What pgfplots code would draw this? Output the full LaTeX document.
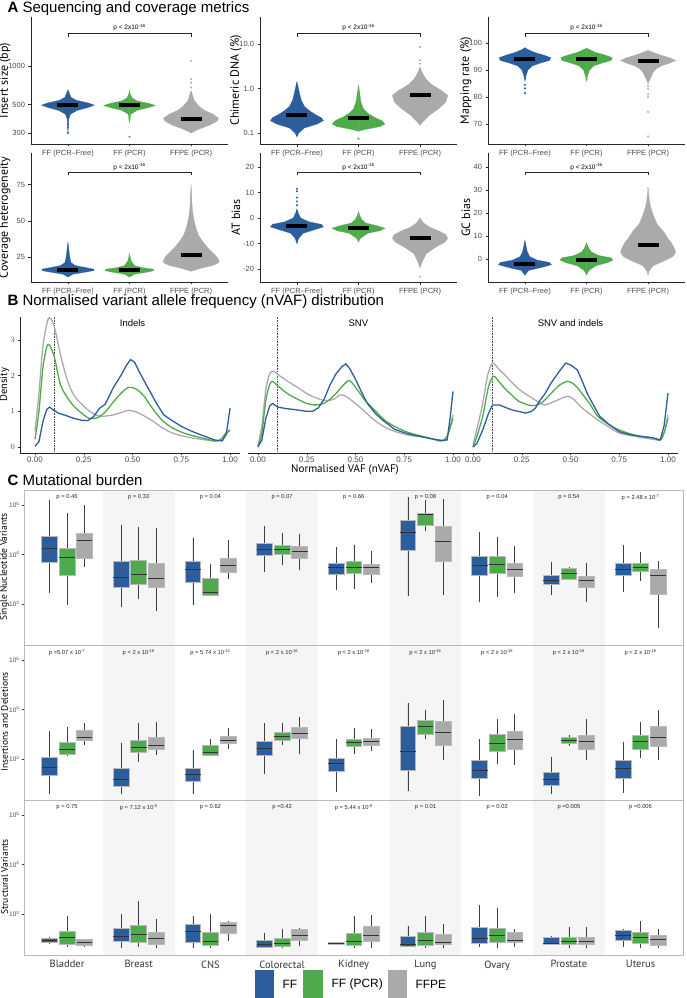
\documentclass[border=0pt]{standalone}
\usepackage{fontspec}
\setmainfont{Liberation Sans}
\newfontfamily\labf{PT Sans}
\usepackage{pgfplots}
\usepackage{pgfplotstable}
\pgfplotsset{compat=1.18}
\usepgfplotslibrary{statistics}

\definecolor{cblue}{RGB}{44,94,158}
\definecolor{cgreen}{RGB}{78,170,74}
\definecolor{cgrey}{RGB}{170,170,170}
\definecolor{tickc}{RGB}{77,77,77}
\definecolor{shade}{RGB}{245,245,245}
\newcommand\fs[1]{\fontsize{#1}{#1}\selectfont}

% ---- violin profiles: y, half width (category units) ----
\pgfplotstableread{
y hw
300 0
380 0.01
420 0.04
450 0.15
475 0.33
495 0.43
515 0.33
540 0.14
570 0.05
620 0.02
650 0
}\insB
\pgfplotstableread{
y hw
360 0
420 0.02
450 0.12
475 0.32
492 0.42
510 0.32
535 0.12
565 0.04
610 0.01
640 0
}\insG
\pgfplotstableread{
y hw
300 0
320 0.12
345 0.3
370 0.42
390 0.45
420 0.36
450 0.22
490 0.12
540 0.05
600 0.02
640 0
}\insY
\pgfplotstableread{
y hw
0.083 0
0.1 0.03
0.13 0.12
0.16 0.33
0.19 0.43
0.22 0.40
0.26 0.30
0.32 0.20
0.40 0.12
0.55 0.07
0.8 0.04
1.1 0.02
1.4 0
}\chiB
\pgfplotstableread{
y hw
0.11 0
0.12 0.1
0.14 0.35
0.16 0.43
0.19 0.38
0.23 0.25
0.28 0.15
0.35 0.08
0.5 0.04
0.8 0.02
1.2 0
}\chiG
\pgfplotstableread{
y hw
0.15 0
0.18 0.05
0.25 0.15
0.35 0.30
0.5 0.42
0.7 0.45
0.9 0.35
1.2 0.2
1.6 0.1
2.2 0.04
3.0 0
}\chiY
\pgfplotstableread{
y hw
86 0
88 0.02
90 0.05
91.5 0.12
92.5 0.25
93.5 0.40
94.5 0.42
95.5 0.30
96.5 0.15
97.5 0.05
98.2 0
}\mapB
\pgfplotstableread{
y hw
86 0
88 0.02
90 0.05
91.5 0.12
92.5 0.25
93.5 0.40
94.5 0.42
95.5 0.30
96.5 0.14
97.5 0.05
98 0
}\mapG
\pgfplotstableread{
y hw
85 0
87 0.04
89 0.08
90.5 0.14
91.5 0.22
92.5 0.35
93.5 0.45
94.5 0.35
95.5 0.2
96.5 0.08
97.2 0
}\mapY
\pgfplotstableread{
y hw
11 0
13 0.08
14.5 0.3
15.5 0.42
16.5 0.42
17.5 0.3
19 0.12
21 0.05
25 0.03
30 0.015
35 0
}\covB
\pgfplotstableread{
y hw
11 0
13 0.08
14.5 0.3
15.5 0.4
16.5 0.38
17.5 0.22
19 0.08
22 0.03
27 0
}\covG
\pgfplotstableread{
y hw
15 0
17 0.15
19 0.35
21 0.45
23 0.45
26 0.4
30 0.3
35 0.2
40 0.12
45 0.08
50 0.05
55 0.03
62 0.015
68 0.008
75 0
}\covY
\pgfplotstableread{
y hw
-10 0
-8 0.03
-6 0.1
-4.5 0.3
-3.5 0.43
-2.5 0.4
-1.5 0.2
0 0.06
2 0.02
3.5 0
}\atB
\pgfplotstableread{
y hw
-9.5 0
-8 0.03
-6 0.15
-5 0.35
-4 0.43
-3 0.3
-2 0.12
-0.5 0.05
1 0.02
2.5 0
}\atG
\pgfplotstableread{
y hw
-19.5 0
-17 0.04
-14 0.1
-11.5 0.25
-9.5 0.4
-8 0.45
-6.5 0.42
-5 0.3
-3.5 0.15
-2 0.06
0 0
}\atY
\pgfplotstableread{
y hw
-7 0
-5 0.06
-3.5 0.3
-2.5 0.43
-1.5 0.4
-0.5 0.2
1 0.08
3 0.04
5.5 0.02
8 0
}\gcB
\pgfplotstableread{
y hw
-7 0
-5 0.04
-3 0.15
-1.5 0.35
-0.5 0.43
0.5 0.4
1.5 0.2
3 0.08
5 0.03
7 0
}\gcG
\pgfplotstableread{
y hw
-6 0
-3 0.08
-1 0.25
1 0.4
3 0.45
5 0.42
7 0.38
9 0.32
12 0.25
15 0.15
18 0.1
21 0.06
24 0.03
27 0.015
30 0
}\gcY

\newcommand\vio[3]{%
  \addplot[fill=#2, draw=#2, line width=0.2pt] table[x expr=#1+\thisrow{hw}, y=y]{#3} -- cycle;
  \addplot[fill=#2, draw=#2, line width=0.2pt] table[x expr=#1-\thisrow{hw}, y=y]{#3} -- cycle;}
\newcommand\med[2]{\addplot[black, line width=4pt] coordinates {(#1-0.17,#2) (#1+0.17,#2)};}
\newcommand\bx[7]{\addplot[fill=#1, draw=gray!55, line width=0.7pt,
  boxplot prepared={draw position=#2, lower whisker=#3, lower quartile=#4,
  median=#5, upper quartile=#6, upper whisker=#7}] coordinates {};}
\newcommand\pv[2]{\node[anchor=north, font=\fs{5.8}, text=black!85] at (axis cs:#1,5.285) {#2};}
\newcommand\shades{%
  \addplot[fill=shade, draw=none] coordinates {(1.5,2.17) (2.5,2.17) (2.5,5.3) (1.5,5.3)} -- cycle;
  \addplot[fill=shade, draw=none] coordinates {(3.5,2.17) (4.5,2.17) (4.5,5.3) (3.5,5.3)} -- cycle;
  \addplot[fill=shade, draw=none] coordinates {(5.5,2.17) (6.5,2.17) (6.5,5.3) (5.5,5.3)} -- cycle;
  \addplot[fill=shade, draw=none] coordinates {(7.5,2.17) (8.5,2.17) (8.5,5.3) (7.5,5.3)} -- cycle;}

\pgfplotsset{
  Abase/.style={
    scale only axis, anchor=north west, width=197pt,
    axis lines=left, axis line style={-, black!85, line width=0.9pt},
    xmin=0.4, xmax=3.6, xtick={1,2,3},
    xticklabels={FF (PCR–Free), FF (PCR), FFPE (PCR)},
    tick align=outside, major tick length=2.5pt, minor tick length=0pt,
    tick style={black!85, line width=0.5pt},
    ticklabel style={font=\fs{7.5}, text=tickc},
    ylabel style={font=\labf\fs{12}, anchor=center},
  },
  Arow1/.style={Abase, height=127pt},
  Arow2/.style={Abase, height=129pt},
  Bbase/.style={
    scale only axis, anchor=north west, height=136.4pt,
    ymin=-0.17, ymax=3.65, xmax=1.05,
    axis x line*=bottom, axis line style={-, black!85, line width=0.9pt},
    xtick={0,0.25,0.5,0.75,1}, xticklabels={0.00,0.25,0.50,0.75,1.00},
    tick align=outside, major tick length=2pt,
    tick style={black!85, line width=0.5pt},
    ticklabel style={font=\fs{8}, text=tickc},
    xticklabel style={yshift=1.5pt},
  },
  Cbase/.style={
    scale only axis, anchor=north west, width=659.6pt, height=155pt,
    xmin=0.4, xmax=9.6, ymin=2.17, ymax=5.3, axis on top,
    axis line style={gray!55, line width=0.6pt},
    xtick={1,...,9}, xticklabels={}, xtick style={draw=none},
    ytick={3,4,5}, yticklabels={10\textsuperscript{3},10\textsuperscript{4},10\textsuperscript{5}},
    ytick pos=left, tick align=outside, major tick length=2pt,
    ytick style={black!80},
    yticklabel style={font=\fs{6.5}, text=tickc, xshift=1pt},
    boxplot/draw direction=y,
    boxplot/box extend=0.22, boxplot/whisker extend=0,
    boxplot/every median/.style={draw=black!80, line width=1pt},
    boxplot/every whisker/.style={draw=gray!50!black, line width=0.6pt},
  },
}

\begin{document}
\begin{tikzpicture}
\path[use as bounding box] (0,0) rectangle (687pt,-998pt);

\node[anchor=west, font=\fs{15}] at (4pt,-9pt) {\textbf{A} Sequencing and coverage metrics};
\node[anchor=west, font=\fs{15}] at (4pt,-302pt) {\textbf{B} Normalised variant allele frequency (nVAF) distribution};
\node[anchor=west, font=\fs{15}] at (4pt,-480pt) {\textbf{C} Mutational burden};

% ================= A, row 1 =================
\begin{axis}[Arow1, at={(31pt,-17pt)}, ymode=log, ymin=246, ymax=2420,
  ytick={300,500,1000}, yticklabels={300,500,1000}, ylabel={Insert size (bp)},
  ylabel style={at={(axis description cs:-0.132,0.5)}}]
\vio{1}{cblue}{\insB}\vio{2}{cgreen}{\insG}\vio{3}{cgrey}{\insY}
\addplot[only marks, mark=*, mark size=0.8pt, cblue, draw=none] coordinates {(1,350) (1,330) (1,300)};
\addplot[only marks, mark=*, mark size=0.8pt, cgreen, draw=none] coordinates {(2,380) (2,280)};
\addplot[only marks, mark=*, mark size=0.8pt, cgrey, draw=none] coordinates {(3,680) (3,740) (3,790) (3,1100)};
\med{1}{495}\med{2}{492}\med{3}{385}
\draw[black!85, line width=0.6pt] (axis description cs:0.1875,0.845) |- (axis description cs:0.8125,0.872) -- (axis description cs:0.8125,0.845);
\node[font=\fs{6.5}] at (axis description cs:0.5,0.915) {p < 2x10\textsuperscript{-16}};
\end{axis}

\begin{axis}[Arow1, at={(260pt,-17pt)}, ymode=log, ymin=0.057, ymax=40,
  ytick={0.1,1,10}, yticklabels={0.1,1.0,10.0}, ylabel={Chimeric DNA (\%)},
  ylabel style={at={(axis description cs:-0.122,0.5)}}]
\vio{1}{cblue}{\chiB}\vio{2}{cgreen}{\chiG}\vio{3}{cgrey}{\chiY}
\addplot[only marks, mark=*, mark size=0.8pt, cgreen, draw=none] coordinates {(2,0.075)};
\addplot[only marks, mark=*, mark size=0.8pt, cgrey, draw=none] coordinates {(3,3.6) (3,4.3) (3,8.5)};
\med{1}{0.25}\med{2}{0.22}\med{3}{0.7}
\draw[black!85, line width=0.6pt] (axis description cs:0.1875,0.845) |- (axis description cs:0.8125,0.872) -- (axis description cs:0.8125,0.845);
\node[font=\fs{6.5}] at (axis description cs:0.5,0.915) {p < 2x10\textsuperscript{-16}};
\end{axis}

\begin{axis}[Arow1, at={(488pt,-17pt)}, ymin=62.7, ymax=109.5,
  ytick={70,80,90,100}, yticklabels={70,80,90,100}, ylabel={Mapping rate (\%)},
  ylabel style={at={(axis description cs:-0.112,0.5)}}]
\vio{1}{cblue}{\mapB}\vio{2}{cgreen}{\mapG}\vio{3}{cgrey}{\mapY}
\addplot[only marks, mark=*, mark size=0.8pt, cblue, draw=none] coordinates {(1,87) (1,84.5) (1,83.2) (1,81.5)};
\addplot[only marks, mark=*, mark size=0.8pt, cgreen, draw=none] coordinates {(2,86.5)};
\addplot[only marks, mark=*, mark size=0.8pt, cgrey, draw=none] coordinates {(3,84) (3,83) (3,81) (3,80) (3,74.5) (3,65.5)};
\med{1}{94}\med{2}{94.2}\med{3}{93.2}
\draw[black!85, line width=0.6pt] (axis description cs:0.1875,0.845) |- (axis description cs:0.8125,0.872) -- (axis description cs:0.8125,0.845);
\node[font=\fs{6.5}] at (axis description cs:0.5,0.915) {p < 2x10\textsuperscript{-16}};
\end{axis}

% ================= A, row 2 =================
\begin{axis}[Arow2, at={(31pt,-153pt)}, ymin=7.6, ymax=97,
  ytick={25,50,75}, yticklabels={25,50,75}, ylabel={Coverage heterogeneity},
  ylabel style={at={(axis description cs:-0.132,0.5)}}]
\vio{1}{cblue}{\covB}\vio{2}{cgreen}{\covG}\vio{3}{cgrey}{\covY}
\med{1}{16}\med{2}{15.7}\med{3}{26}
\draw[black!85, line width=0.6pt] (axis description cs:0.1875,0.826) |- (axis description cs:0.8125,0.85) -- (axis description cs:0.8125,0.826);
\node[font=\fs{6.5}] at (axis description cs:0.5,0.89) {p < 2x10\textsuperscript{-16}};
\end{axis}

\begin{axis}[Arow2, at={(260pt,-153pt)}, ymin=-25.1, ymax=25.5,
  ytick={-20,-10,0,10,20}, yticklabels={-20,-10,0,10,20}, ylabel={AT bias},
  ylabel style={at={(axis description cs:-0.122,0.5)}}]
\vio{1}{cblue}{\atB}\vio{2}{cgreen}{\atG}\vio{3}{cgrey}{\atY}
\addplot[only marks, mark=*, mark size=0.8pt, cblue, draw=none] coordinates {(1,5) (1,6.5) (1,8) (1,10.5) (1,11.5)};
\addplot[only marks, mark=*, mark size=0.8pt, cgrey, draw=none] coordinates {(3,-23)};
\med{1}{-3}\med{2}{-4}\med{3}{-8}
\draw[black!85, line width=0.6pt] (axis description cs:0.1875,0.826) |- (axis description cs:0.8125,0.85) -- (axis description cs:0.8125,0.826);
\node[font=\fs{6.5}] at (axis description cs:0.5,0.89) {p < 2x10\textsuperscript{-16}};
\end{axis}

\begin{axis}[Arow2, at={(488pt,-153pt)}, ymin=-10, ymax=46,
  ytick={0,10,20,30,40}, yticklabels={0,10,20,30,40}, ylabel={GC bias},
  ylabel style={at={(axis description cs:-0.112,0.5)}}]
\vio{1}{cblue}{\gcB}\vio{2}{cgreen}{\gcG}\vio{3}{cgrey}{\gcY}
\addplot[only marks, mark=*, mark size=0.8pt, cgrey, draw=none] coordinates {(3,-6.5) (3,30.5)};
\med{1}{-2}\med{2}{-0.3}\med{3}{6}
\draw[black!85, line width=0.6pt] (axis description cs:0.1875,0.826) |- (axis description cs:0.8125,0.85) -- (axis description cs:0.8125,0.826);
\node[font=\fs{6.5}] at (axis description cs:0.5,0.89) {p < 2x10\textsuperscript{-16}};
\end{axis}

% ================= B =================
\begin{axis}[Bbase, at={(20.4pt,-316.7pt)}, width=219.4pt, xmin=-0.075,
  axis y line*=left, ytick={0,1,2,3}, ylabel={Density},
  ylabel style={font=\labf\fs{10.5}, anchor=center, at={(axis description cs:-0.072,0.5)}}]
\addplot[black!70, densely dotted, line width=0.6pt] coordinates {(0.1,-0.17) (0.1,3.65)};
\addplot[cgrey, line width=1.3pt, smooth] coordinates {(0,0.45) (0.02,1.5) (0.04,2.8) (0.065,3.55) (0.08,3.6) (0.1,3.35) (0.13,2.6) (0.165,1.88) (0.2,1.45) (0.25,1.14) (0.3,0.93) (0.34,0.86) (0.4,0.9) (0.45,0.98) (0.48,1.03) (0.52,0.98) (0.56,0.87) (0.6,0.74) (0.65,0.55) (0.7,0.4) (0.75,0.32) (0.8,0.26) (0.85,0.22) (0.9,0.18) (0.94,0.18) (0.97,0.3) (1.0,0.48)};
\addplot[cgreen, line width=1.3pt, smooth] coordinates {(0,0.22) (0.02,1.0) (0.04,2.2) (0.06,2.8) (0.075,2.85) (0.1,2.5) (0.13,1.75) (0.17,1.35) (0.2,1.14) (0.25,0.9) (0.28,0.8) (0.32,0.82) (0.36,0.98) (0.4,1.25) (0.44,1.5) (0.48,1.67) (0.52,1.62) (0.56,1.42) (0.6,1.1) (0.65,0.76) (0.7,0.55) (0.75,0.42) (0.8,0.33) (0.86,0.25) (0.92,0.17) (0.95,0.2) (0.98,0.4) (1.0,0.47)};
\addplot[cblue, line width=1.3pt] coordinates {(0,0.02) (0.02,0.15) (0.04,0.7) (0.06,1.05) (0.075,1.12) (0.09,1.05) (0.12,0.95) (0.16,0.88) (0.2,0.8) (0.24,0.75) (0.27,0.74) (0.3,0.85) (0.33,1.08) (0.36,1.2) (0.4,1.65) (0.44,2.0) (0.47,2.3) (0.49,2.45) (0.51,2.38) (0.54,2.05) (0.58,1.65) (0.62,1.25) (0.66,0.9) (0.7,0.75) (0.75,0.58) (0.8,0.45) (0.86,0.32) (0.92,0.2) (0.96,0.17) (0.98,0.35) (0.99,0.7) (1.0,1.09)};
\node[font=\fs{9.5}] at (axis cs:0.5,3.48) {Indels};
\end{axis}

\begin{axis}[Bbase, at={(248.25pt,-316.7pt)}, width=214.5pt, xmin=-0.05,
  axis y line=none, ytick=\empty]
\addplot[black!70, densely dotted, line width=0.6pt] coordinates {(0.1,-0.17) (0.1,3.65)};
\addplot[cgrey, line width=1.3pt, smooth] coordinates {(0,0.05) (0.02,0.6) (0.04,1.6) (0.06,2.05) (0.08,2.12) (0.11,2.0) (0.15,1.85) (0.2,1.68) (0.25,1.5) (0.3,1.37) (0.35,1.3) (0.39,1.34) (0.42,1.46) (0.45,1.42) (0.5,1.22) (0.55,0.98) (0.6,0.74) (0.65,0.56) (0.7,0.44) (0.75,0.36) (0.8,0.31) (0.85,0.27) (0.9,0.22) (0.94,0.18) (0.97,0.3) (1.0,0.9)};
\addplot[cgreen, line width=1.3pt, smooth] coordinates {(0,0.02) (0.02,0.4) (0.04,1.3) (0.06,1.75) (0.075,1.84) (0.1,1.72) (0.15,1.5) (0.2,1.35) (0.25,1.22) (0.3,1.18) (0.35,1.26) (0.4,1.5) (0.44,1.75) (0.47,1.86) (0.51,1.6) (0.55,1.3) (0.6,1.02) (0.65,0.75) (0.7,0.58) (0.75,0.45) (0.8,0.36) (0.85,0.29) (0.9,0.22) (0.94,0.17) (0.97,0.3) (1.0,0.8)};
\addplot[cblue, line width=1.3pt] coordinates {(0,0.0) (0.02,0.2) (0.04,0.8) (0.06,1.15) (0.075,1.22) (0.1,1.12) (0.14,1.08) (0.2,1.04) (0.25,1.0) (0.28,1.0) (0.31,1.1) (0.34,1.35) (0.37,1.75) (0.4,2.05) (0.43,2.25) (0.45,2.33) (0.47,2.2) (0.5,1.9) (0.53,1.55) (0.56,1.23) (0.6,0.95) (0.64,0.75) (0.7,0.5) (0.75,0.4) (0.8,0.33) (0.85,0.28) (0.9,0.22) (0.95,0.18) (0.97,0.2) (0.985,0.8) (1.0,1.56)};
\node[font=\fs{9.5}] at (axis cs:0.515,3.48) {SNV};
\end{axis}

\begin{axis}[Bbase, at={(463.25pt,-316.7pt)}, width=214.5pt, xmin=-0.05,
  axis y line=none, ytick=\empty]
\addplot[black!70, densely dotted, line width=0.6pt] coordinates {(0.1,-0.17) (0.1,3.65)};
\addplot[cgrey, line width=1.3pt, smooth] coordinates {(0,0.06) (0.02,0.5) (0.05,1.23) (0.075,2.0) (0.1,2.35) (0.13,2.2) (0.17,1.98) (0.21,1.75) (0.25,1.56) (0.3,1.38) (0.34,1.25) (0.37,1.18) (0.42,1.28) (0.46,1.38) (0.49,1.42) (0.52,1.32) (0.55,1.14) (0.6,0.92) (0.64,0.76) (0.7,0.55) (0.75,0.39) (0.8,0.33) (0.86,0.27) (0.92,0.22) (0.96,0.2) (0.98,0.4) (1.0,0.9)};
\addplot[cgreen, line width=1.3pt, smooth] coordinates {(0,0.0) (0.02,0.3) (0.05,0.87) (0.08,1.7) (0.105,1.98) (0.13,1.85) (0.17,1.6) (0.2,1.45) (0.235,1.28) (0.3,1.16) (0.35,1.23) (0.4,1.5) (0.44,1.72) (0.485,1.84) (0.52,1.75) (0.55,1.56) (0.6,1.2) (0.64,0.86) (0.7,0.62) (0.75,0.48) (0.8,0.38) (0.86,0.3) (0.92,0.26) (0.96,0.2) (0.98,0.4) (1.0,0.8)};
\addplot[cblue, line width=1.3pt] coordinates {(0,0.0) (0.02,0.1) (0.05,0.48) (0.08,0.95) (0.1,1.18) (0.135,1.18) (0.17,1.1) (0.2,1.04) (0.27,0.95) (0.3,1.0) (0.32,1.09) (0.34,1.28) (0.37,1.5) (0.4,1.79) (0.44,2.1) (0.475,2.35) (0.5,2.3) (0.535,2.16) (0.56,1.85) (0.585,1.51) (0.62,1.15) (0.65,0.86) (0.7,0.62) (0.75,0.43) (0.8,0.35) (0.86,0.3) (0.92,0.26) (0.96,0.2) (0.98,0.6) (1.0,1.51)};
\node[font=\fs{9.5}] at (axis cs:0.5,3.48) {SNV and indels};
\end{axis}
\node[font=\labf\fs{11}] at (345pt,-470pt) {Normalised VAF (nVAF)};

% ================= C, row 1: SNV =================
\begin{axis}[Cbase, at={(24pt,-490pt)}]
\shades
\bx{cblue}{0.755}{3.22}{3.84}{4.11}{4.36}{5.10}\bx{cgreen}{1}{2.97}{3.57}{3.94}{4.13}{4.83}\bx{cgrey}{1.245}{3.75}{3.92}{4.28}{4.43}{4.99}
\bx{cblue}{1.755}{2.93}{3.34}{3.54}{3.85}{4.60}\bx{cgreen}{2}{3.10}{3.40}{3.59}{3.87}{4.56}\bx{cgrey}{2.245}{2.86}{3.33}{3.51}{3.82}{4.53}
\bx{cblue}{2.755}{2.98}{3.43}{3.70}{3.85}{4.33}\bx{cgreen}{3}{3.15}{3.17}{3.23}{3.52}{3.81}\bx{cgrey}{3.245}{3.50}{3.64}{3.78}{3.92}{4.29}
\bx{cblue}{3.755}{3.65}{3.98}{4.09}{4.23}{4.58}\bx{cgreen}{4}{3.78}{4.00}{4.09}{4.19}{4.43}\bx{cgrey}{4.245}{3.69}{3.92}{4.05}{4.16}{4.41}
\bx{cblue}{4.755}{3.28}{3.60}{3.73}{3.82}{4.15}\bx{cgreen}{5}{3.30}{3.62}{3.73}{3.85}{4.19}\bx{cgrey}{5.245}{3.43}{3.59}{3.73}{3.80}{4.06}
\bx{cblue}{5.755}{3.15}{4.08}{4.45}{4.68}{5.16}\bx{cgreen}{6}{4.48}{4.58}{4.80}{4.83}{5.10}\bx{cgrey}{6.245}{3.18}{3.85}{4.27}{4.56}{5.12}
\bx{cblue}{6.755}{3.03}{3.58}{3.78}{3.97}{4.45}\bx{cgreen}{7}{3.14}{3.62}{3.80}{3.97}{4.35}\bx{cgrey}{7.245}{3.23}{3.55}{3.69}{3.81}{4.17}
\bx{cblue}{7.755}{3.18}{3.40}{3.48}{3.58}{3.85}\bx{cgreen}{8}{3.48}{3.50}{3.61}{3.72}{3.74}\bx{cgrey}{8.245}{3.03}{3.34}{3.47}{3.55}{3.82}
\bx{cblue}{8.755}{3.25}{3.57}{3.70}{3.82}{4.19}\bx{cgreen}{9}{3.47}{3.65}{3.74}{3.81}{4.04}\bx{cgrey}{9.245}{2.51}{3.20}{3.57}{3.69}{3.87}
\pv{1}{p = 0.46}\pv{2}{p = 0.33}\pv{3}{p = 0.04}\pv{4}{p = 0.07}\pv{5}{p = 0.66}
\pv{6}{p = 0.08}\pv{7}{p = 0.04}\pv{8}{p = 0.54}\pv{9}{p = 2.48 x 10\textsuperscript{-7}}
\draw[black!80, line width=0.8pt] (rel axis cs:0,0) -- (rel axis cs:0,1);
\end{axis}

% ================= C, row 2: indels =================
\begin{axis}[Cbase, at={(24pt,-645pt)}]
\shades
\bx{cblue}{0.755}{2.29}{2.66}{2.82}{3.04}{3.57}\bx{cgreen}{1}{3.06}{3.10}{3.20}{3.33}{3.64}\bx{cgrey}{1.245}{3.29}{3.37}{3.44}{3.58}{3.72}
\bx{cblue}{1.755}{2.29}{2.44}{2.58}{2.80}{3.33}\bx{cgreen}{2}{2.94}{3.13}{3.24}{3.38}{3.72}\bx{cgrey}{2.245}{3.07}{3.19}{3.27}{3.44}{3.75}
\bx{cblue}{2.755}{2.29}{2.54}{2.68}{2.80}{3.17}\bx{cgreen}{3}{3.05}{3.08}{3.13}{3.27}{3.40}\bx{cgrey}{3.245}{3.21}{3.31}{3.38}{3.46}{3.63}
\bx{cblue}{3.755}{2.70}{3.08}{3.22}{3.35}{3.73}\bx{cgreen}{4}{3.28}{3.38}{3.46}{3.54}{3.73}\bx{cgrey}{4.245}{3.10}{3.41}{3.51}{3.64}{3.84}
\bx{cblue}{4.755}{2.34}{2.74}{2.90}{3.01}{3.41}\bx{cgreen}{5}{3.10}{3.25}{3.33}{3.40}{3.62}\bx{cgrey}{5.245}{3.15}{3.28}{3.36}{3.42}{3.60}
\bx{cblue}{5.755}{2.35}{2.77}{3.15}{3.65}{4.12}\bx{cgreen}{6}{3.40}{3.50}{3.65}{3.77}{3.98}\bx{cgrey}{6.245}{2.98}{3.27}{3.54}{3.75}{4.19}
\bx{cblue}{6.755}{2.25}{2.60}{2.77}{2.98}{3.40}\bx{cgreen}{7}{2.90}{3.15}{3.31}{3.50}{3.81}\bx{cgrey}{7.245}{2.88}{3.19}{3.40}{3.56}{3.90}
\bx{cblue}{7.755}{2.29}{2.46}{2.58}{2.73}{3.04}\bx{cgreen}{8}{3.27}{3.31}{3.38}{3.44}{3.48}\bx{cgrey}{8.245}{2.98}{3.19}{3.35}{3.48}{3.81}
\bx{cblue}{8.755}{2.31}{2.60}{2.81}{2.98}{3.35}\bx{cgreen}{9}{3.02}{3.19}{3.35}{3.48}{3.75}\bx{cgrey}{9.245}{2.98}{3.25}{3.44}{3.65}{3.98}
\pv{1}{p =5.07 x 10\textsuperscript{-7}}\pv{2}{p < 2 x 10\textsuperscript{-16}}\pv{3}{p = 5.74 x 10\textsuperscript{-12}}
\pv{4}{p < 2 x 10\textsuperscript{-16}}\pv{5}{p < 2 x 10\textsuperscript{-16}}\pv{6}{p < 2 x 10\textsuperscript{-16}}
\pv{7}{p < 2 x 10\textsuperscript{-16}}\pv{8}{p < 2 x 10\textsuperscript{-16}}\pv{9}{p < 2 x 10\textsuperscript{-16}}
\draw[black!80, line width=0.8pt] (rel axis cs:0,0) -- (rel axis cs:0,1);
\end{axis}

% ================= C, row 3: SV =================
\begin{axis}[Cbase, at={(24pt,-800pt)},
  xticklabels={Bladder,Breast,CNS,Colorectal,Kidney,Lung,Ovary,Prostate,Uterus},
  x tick label style={font=\labf\fs{10.5}, text=black!80}]
\shades
\bx{cblue}{0.755}{2.39}{2.42}{2.46}{2.51}{2.54}\bx{cgreen}{1}{2.33}{2.39}{2.52}{2.64}{2.96}\bx{cgrey}{1.245}{2.34}{2.37}{2.43}{2.49}{2.50}
\bx{cblue}{1.755}{2.31}{2.44}{2.54}{2.71}{3.00}\bx{cgreen}{2}{2.33}{2.42}{2.59}{2.76}{3.27}\bx{cgrey}{2.245}{2.31}{2.39}{2.51}{2.62}{2.89}
\bx{cblue}{2.755}{2.31}{2.42}{2.64}{2.78}{2.96}\bx{cgreen}{3}{2.31}{2.37}{2.44}{2.62}{2.99}\bx{cgrey}{3.245}{2.45}{2.61}{2.77}{2.82}{2.86}
\bx{cblue}{3.755}{2.31}{2.33}{2.39}{2.46}{2.62}\bx{cgreen}{4}{2.31}{2.34}{2.41}{2.51}{2.70}\bx{cgrey}{4.245}{2.35}{2.47}{2.57}{2.68}{2.71}
\bx{cblue}{4.755}{2.38}{2.38}{2.40}{2.42}{2.42}\bx{cgreen}{5}{2.32}{2.37}{2.45}{2.61}{2.96}\bx{cgrey}{5.245}{2.32}{2.44}{2.56}{2.74}{2.97}
\bx{cblue}{5.755}{2.33}{2.35}{2.39}{2.54}{2.76}\bx{cgreen}{6}{2.32}{2.37}{2.46}{2.63}{2.96}\bx{cgrey}{6.245}{2.32}{2.38}{2.43}{2.59}{2.79}
\bx{cblue}{6.755}{2.34}{2.41}{2.50}{2.73}{3.18}\bx{cgreen}{7}{2.32}{2.43}{2.56}{2.71}{3.12}\bx{cgrey}{7.245}{2.34}{2.43}{2.47}{2.62}{2.69}
\bx{cblue}{7.755}{2.38}{2.39}{2.41}{2.53}{2.56}\bx{cgreen}{8}{2.31}{2.39}{2.45}{2.53}{2.73}\bx{cgrey}{8.245}{2.31}{2.39}{2.45}{2.53}{2.73}
\bx{cblue}{8.755}{2.34}{2.46}{2.56}{2.66}{2.69}\bx{cgreen}{9}{2.31}{2.41}{2.53}{2.63}{2.86}\bx{cgrey}{9.245}{2.31}{2.36}{2.49}{2.57}{2.69}
\pv{1}{p = 0.75}\pv{2}{p = 7.12 x 10\textsuperscript{-5}}\pv{3}{p = 0.62}\pv{4}{p =0.42}\pv{5}{p = 5.44 x 10\textsuperscript{-8}}
\pv{6}{p = 0.01}\pv{7}{p = 0.02}\pv{8}{p =0.005}\pv{9}{p =0.006}
\draw[black!80, line width=0.8pt] (rel axis cs:0,0) -- (rel axis cs:0,1);
\end{axis}

\node[rotate=90, font=\labf\fs{9.5}] at (4.5pt,-567pt) {Single Nucleotide Variants};
\node[rotate=90, font=\labf\fs{9.5}] at (4.5pt,-722pt) {Insertions and Deletions};
\node[rotate=90, font=\labf\fs{9.5}] at (4.5pt,-877pt) {Structural Variants};

% legend
\fill[cblue] (255pt,-970pt) rectangle (274pt,-998pt);
\node[anchor=west, font=\fs{12}] at (279pt,-984pt) {FF};
\fill[cgreen] (303pt,-970pt) rectangle (323pt,-998pt);
\node[anchor=west, font=\fs{12}] at (328pt,-984pt) {FF (PCR)};
\fill[cgrey] (388pt,-970pt) rectangle (407pt,-998pt);
\node[anchor=west, font=\fs{12}] at (412pt,-984pt) {FFPE};
\end{tikzpicture}
\end{document}
